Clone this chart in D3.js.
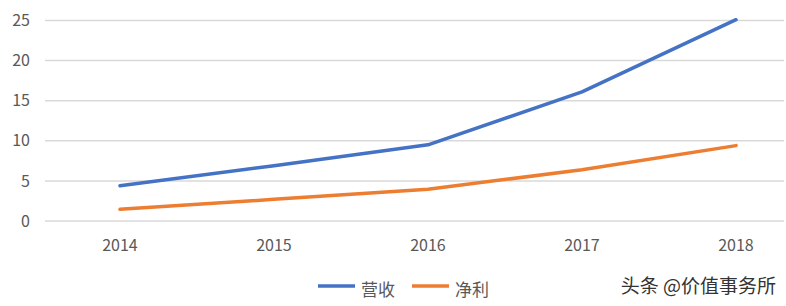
<!DOCTYPE html>
<html lang="zh">
<head>
    <meta charset="UTF-8">
    <title>营收与净利</title>
    <script src="https://d3js.org/d3.v7.min.js"></script>
    <style>
        body {margin: 0; background: #fff}
        text {font-family: 'Noto Sans CJK SC', 'Noto Sans', sans-serif; fill: #595959}
        .grid line {stroke: #d9d9d9; stroke-width: 1.5}
        .line {fill: none; stroke-width: 3.5; stroke-linejoin: round; stroke-linecap: round}
    </style>
</head>
<body>
<script>
    const width  = 786;
    const height = 306;

    // data
    const years   = ["2014", "2015", "2016", "2017", "2018"];
    const revenue = [4.4, 6.9, 9.5, 16.1, 25.1];   // 营收
    const profit  = [1.45, 2.7, 3.95, 6.4, 9.4];   // 净利
    const yTicks  = [0, 5, 10, 15, 20, 25];
    const seriesNames  = ["营收", "净利"];
    const seriesColors = ["#4472C4", "#ED7D31"];

    const x = d3.scaleBand().domain(years).range([43, 813]);
    const y = d3.scaleLinear().domain([0, 25]).range([221, 20.5]);

    const svg = d3.select("body").append("svg")
            .attr("width", width).attr("height", height);

    // horizontal grid
    svg.append("g").attr("class", "grid")
        .selectAll("line").data(yTicks).join("line")
        .attr("x1", 45).attr("x2", 784)
        .attr("y1", y).attr("y2", y);

    // y labels
    svg.append("g").selectAll("text").data(yTicks).join("text")
        .attr("x", 30).attr("y", d => y(d))
        .attr("dy", "0.35em")
        .attr("text-anchor", "end")
        .style("font-size", "16px")
        .text(d => d);

    // x labels
    svg.append("g").selectAll("text").data(years).join("text")
        .attr("x", d => x(d) + x.bandwidth() / 2)
        .attr("y", 251)
        .attr("text-anchor", "middle")
        .style("font-size", "16px")
        .text(d => d);

    const line = d3.line()
            .x((d, i) => x(years[i]) + x.bandwidth() / 2)
            .y(d => y(d));

    svg.selectAll("path.line").data([revenue, profit]).join("path")
        .attr("class", "line")
        .attr("stroke", (d, i) => seriesColors[i])
        .attr("d", line);

    // legend
    const legend = svg.append("g").selectAll("g").data(seriesNames).join("g")
        .attr("transform", (d, i) => `translate(${318 + i * 94},286)`);
    legend.append("line")
        .attr("x1", 0).attr("x2", 37)
        .attr("stroke", (d, i) => seriesColors[i])
        .attr("stroke-width", 3.5);
    legend.append("text")
        .attr("x", 43).attr("y", 4).attr("dy", "0.35em")
        .style("font-size", "17px")
        .text(d => d);

    // watermark
    svg.append("text")
        .attr("x", 776).attr("y", 286).attr("dy", "0.35em")
        .attr("text-anchor", "end")
        .style("font-size", "19px")
        .style("fill", "#333")
        .text("头条 @价值事务所");
</script>
</body>
</html>
